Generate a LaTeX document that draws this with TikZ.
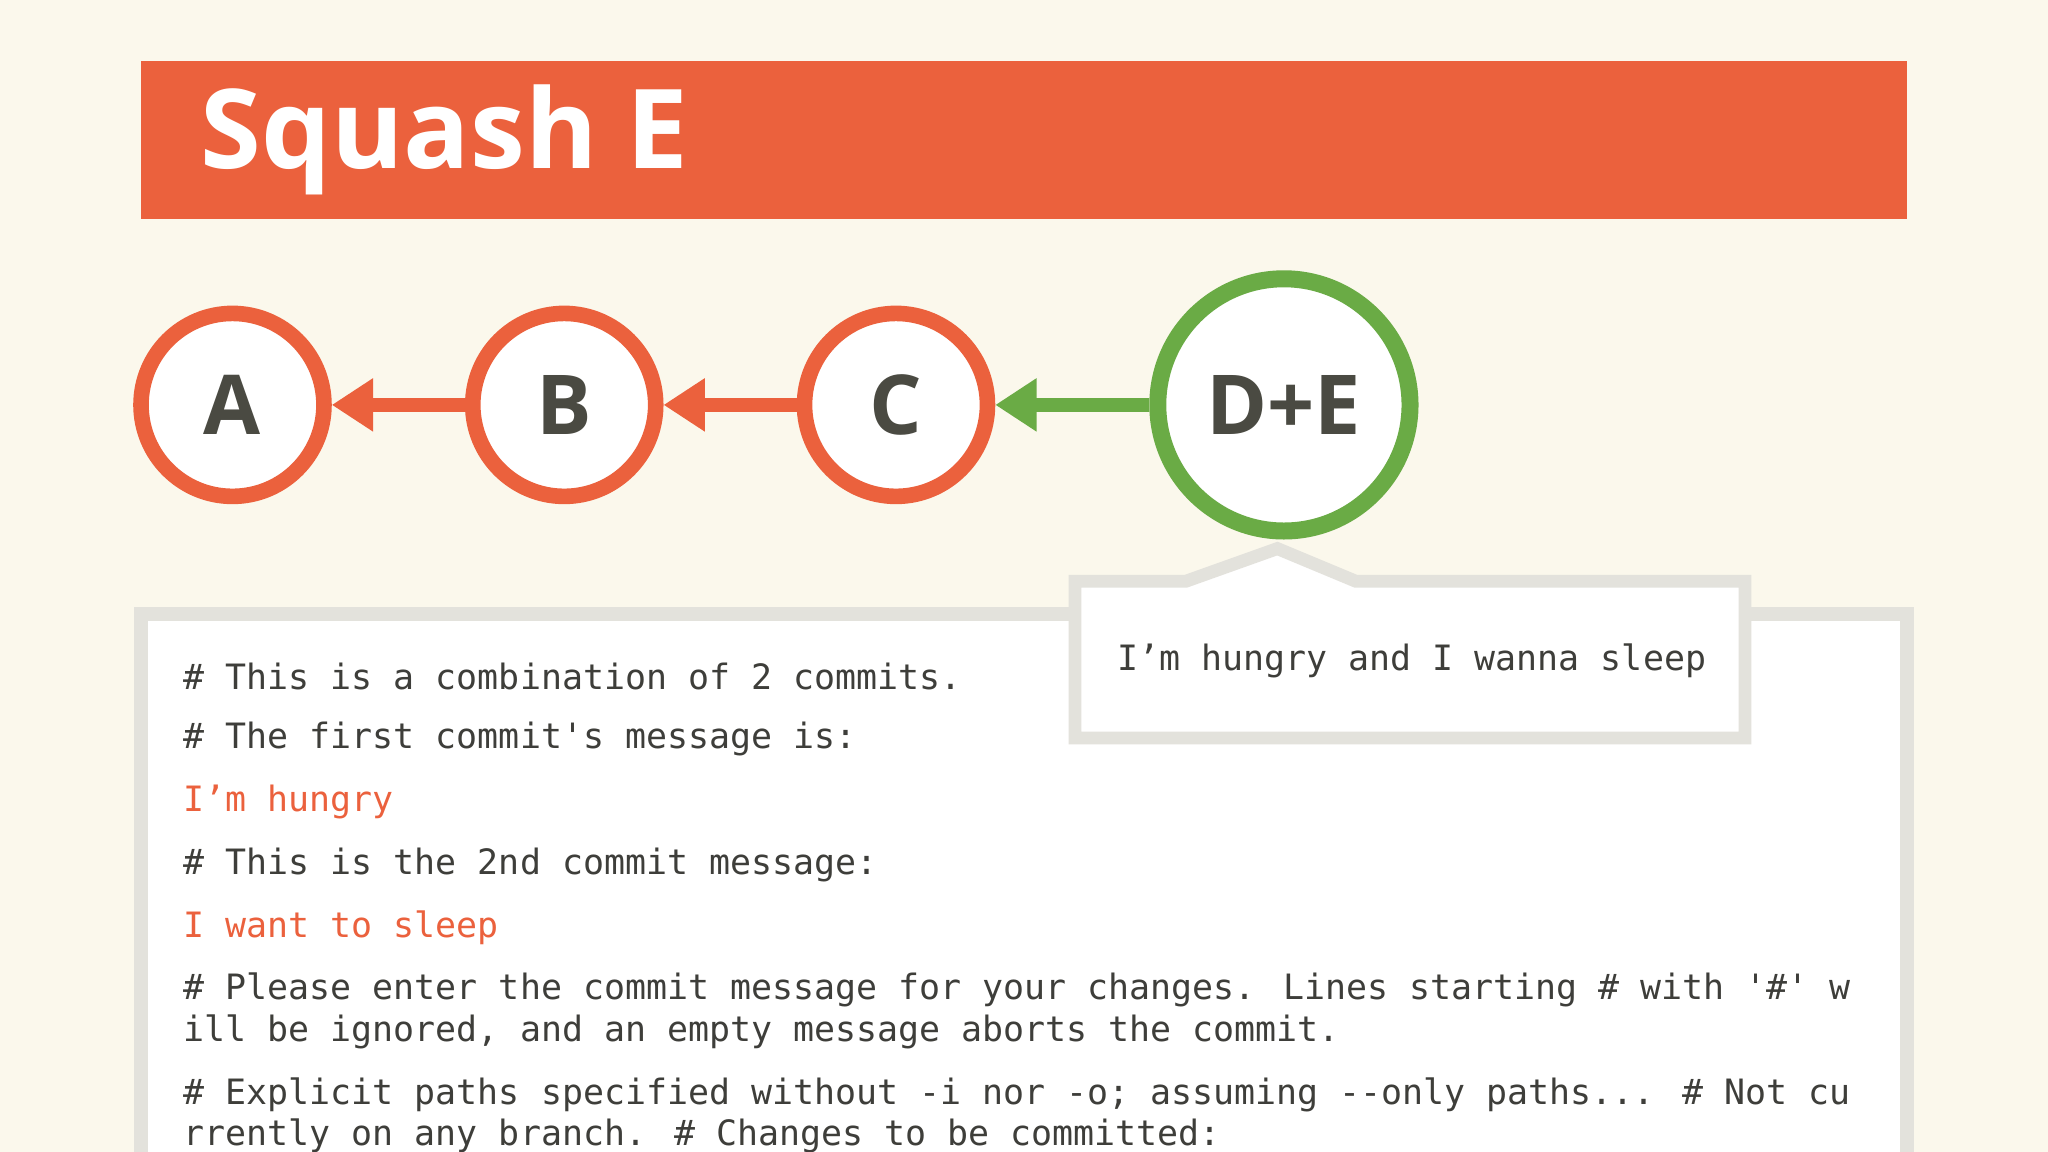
\documentclass[tikz,border=0pt]{standalone}
\usepackage{fontspec}
\setmainfont{Open Sans}
\newfontfamily\monof{DejaVu Sans Mono}
\usetikzlibrary{arrows.meta}
\definecolor{bgc}{HTML}{FBF8EC}
\definecolor{orng}{HTML}{EB613D}
\definecolor{grn}{HTML}{6AAB45}
\definecolor{dgray}{HTML}{4A4A42}
\definecolor{bgray}{HTML}{E3E2DC}
\definecolor{txt}{HTML}{3E3E3A}
\tikzset{
 commit/.style={circle,draw=orng,line width=3.4pt,fill=white,minimum size=1.4cm,inner sep=0pt,font=\fontsize{18}{20}\selectfont\bfseries,text=dgray},
 conn/.style={orng,line width=3.2pt,-{Triangle[length=9pt,width=11pt]}},
 code/.style={anchor=west,font=\monof\fontsize{7.6}{9}\selectfont,text=txt,inner sep=0pt},
}
\begin{document}
\begin{tikzpicture}[x=0.01cm,y=-0.01cm]
\useasboundingbox (0,0) rectangle (1568,882);
\fill[bgc] (0,0) rectangle (1568,882);
\fill[orng] (108,47) rectangle (1460,168);
\node[anchor=west,text=white,font=\fontsize{24}{28}\selectfont\bfseries,inner sep=0pt] (title) at (153,107) {Squash E};
\node[commit] (A) at (178,310) {A};
\node[commit] (B) at (432,310) {B};
\node[commit] (C) at (686,310) {C};
\node[commit,draw=grn,minimum size=1.93cm,line width=3.7pt] (DE) at (983,310) {D+E};
\draw[conn] (B) -- (A);
\draw[conn] (C) -- (B);
\draw[conn,grn] (DE) -- (C);
\begin{scope}
\clip (0,0) rectangle (1568,882);
\draw[bgray,line width=3.2pt,fill=white] (108,470) rectangle (1460,900);
\end{scope}
\draw[bgray,line width=2.8pt,fill=white] (823,445) -- (908,445) -- (978,420) -- (1038,445) -- (1336,445) -- (1336,565) -- (823,565) -- cycle;
\node[code] (cl) at (855,506) {I’m hungry and I wanna sleep};
\node[code] (l1) at (140,518) {\# This is a combination of 2 commits.};
\node[code] (l2) at (140,566) {\# The first commit's message is:};
\node[code,text=orng] (l3) at (140,614) {I’m hungry};
\node[code] (l4) at (140,662) {\# This is the 2nd commit message:};
\node[code,text=orng] (l5) at (140,710) {I want to sleep};
\node[code] (l6) at (140,758) {\# Please enter the commit message for your changes. Lines starting \# with '\#' w};
\node[code] (l7) at (140,790) {ill be ignored, and an empty message aborts the commit.};
\node[code] (l8) at (140,838) {\# Explicit paths specified without -i nor -o; assuming -{}-only paths... \# Not cu};
\node[code] (l9) at (140,870) {rrently on any branch. \# Changes to be committed:};
\end{tikzpicture}
\end{document}
